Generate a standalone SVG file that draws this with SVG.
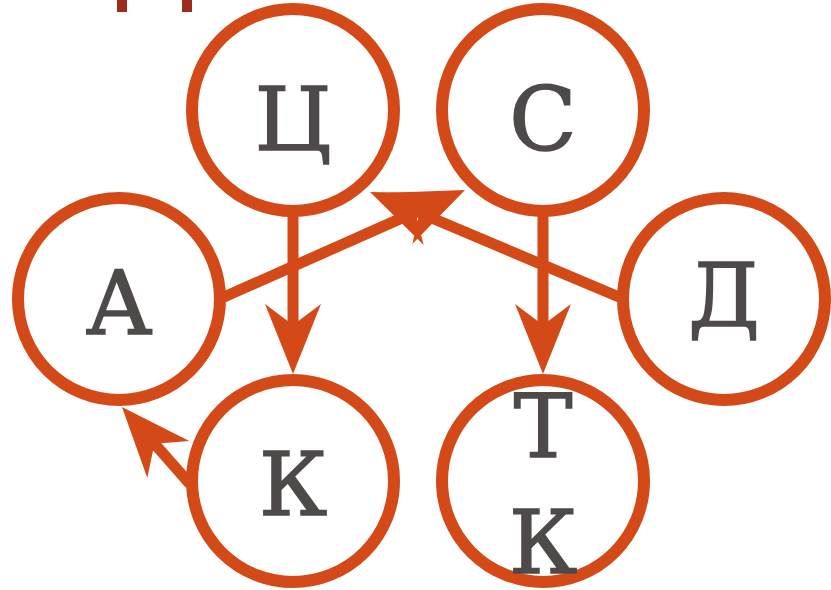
<svg xmlns="http://www.w3.org/2000/svg" width="831" height="590" viewBox="0 0 831 590">
<style>
.n{fill:#ffffff;stroke:#d34a18;stroke-width:12}
.t{font-family:"DejaVu Serif","Liberation Serif",serif;font-size:88px;fill:#4e4a49;stroke:#4e4a49;stroke-width:1.6;text-anchor:middle}
.e{stroke:#d34a18;stroke-width:11;fill:none;marker-end:url(#ah)}
</style>
<defs>
<marker id="ah" markerUnits="userSpaceOnUse" viewBox="-25 -30 80 60" markerWidth="80" markerHeight="60" refX="0" refY="0" orient="auto">
<path d="M49,0 L-21,-28 L0,0 L-21,28 Z" fill="#d34a18"/>
</marker>
</defs>
<rect width="831" height="590" fill="#ffffff"/>
<g id="top-fragment" fill="#9e2b20">
<rect x="117" y="0" width="10" height="12"/>
<rect x="182" y="0" width="10" height="12"/>
</g>
<g id="node-ts"><circle class="n" cx="293" cy="110" r="101"/><text class="t" x="293" y="150">Ц</text></g>
<g id="node-s"><circle class="n" cx="543" cy="110" r="101"/><text class="t" x="543" y="150">С</text></g>
<g id="node-a"><circle class="n" cx="119" cy="299" r="101"/><text class="t" x="119" y="334">А</text></g>
<g id="node-d"><circle class="n" cx="724" cy="299" r="101"/><text class="t" x="724" y="326">Д</text></g>
<g id="node-k"><circle class="n" cx="293" cy="481" r="101"/><text class="t" x="293" y="515">К</text></g>
<g id="node-tk"><circle class="n" cx="543" cy="481" r="101"/><text class="t" x="543" y="457">Т</text><text class="t" x="543" y="573">К</text></g>
<g id="connectors">
<line class="e" x1="293" y1="216" x2="293" y2="325"/>
<line class="e" x1="543" y1="216" x2="543" y2="325"/>
<line class="e" x1="224" y1="297" x2="420.2" y2="209.9"/>
<line class="e" x1="619" y1="297" x2="415.2" y2="211"/>
<line class="e" x1="190" y1="484" x2="154.4" y2="443.7"/>
</g>
</svg>
